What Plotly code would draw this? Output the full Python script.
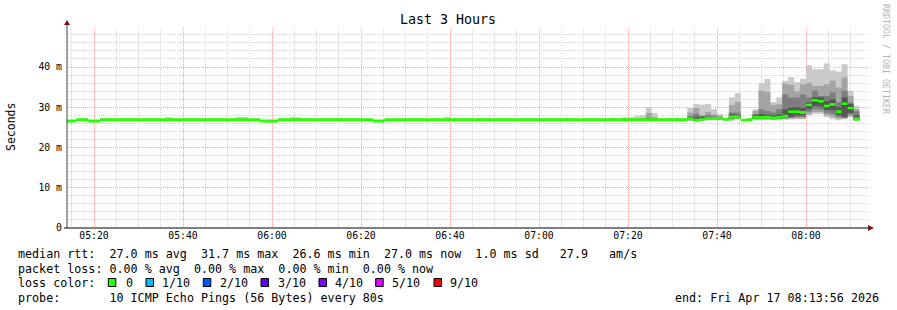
import pandas as pd
import plotly.graph_objects as go

# ---------------- data ----------------
start_time = "2026-04-17 05:13:20"   # start of first 80 s RRD step
step_seconds = 80
view_start = "2026-04-17 05:13:56"
view_end = "2026-04-17 08:13:56"

# median RTT (ms) per 80 s step, 134 steps
median_ms = [
    26.6, 26.6, 26.9, 26.9, 26.6, 26.6, 26.9, 26.9, 26.9, 26.9,
    26.9, 26.9, 26.9, 26.9, 26.9, 26.9, 26.9, 26.9, 26.9, 26.9,
    26.9, 26.9, 26.9, 26.9, 26.9, 26.9, 26.9, 26.9, 26.9, 26.9,
    26.9, 26.9, 26.9, 26.6, 26.6, 26.6, 26.9, 26.9, 26.9, 26.9,
    26.9, 26.9, 26.9, 26.9, 26.9, 26.9, 26.9, 26.9, 26.9, 26.9,
    26.9, 26.9, 26.6, 26.6, 26.9, 26.9, 26.9, 26.9, 26.9, 26.9,
    26.9, 26.9, 26.9, 26.9, 26.9, 26.9, 26.9, 26.9, 26.9, 26.9,
    26.9, 26.9, 26.9, 26.9, 26.9, 26.9, 26.9, 26.9, 26.9, 26.9,
    26.9, 26.9, 26.9, 26.9, 26.9, 26.9, 26.9, 26.9, 26.9, 26.9,
    26.9, 26.9, 26.9, 26.9, 26.9, 26.9, 26.9, 26.9, 26.9, 26.9,
    26.9, 26.9, 26.9, 26.9, 26.9, 27.15, 26.8, 27.0, 27.2, 27.2,
    27.2, 27.0, 27.6, 27.6, 26.8, 26.9, 27.5, 27.5, 27.5, 27.35,
    27.5, 27.8, 28.9, 28.9, 28.7, 30.6, 31.75, 31.5, 30.3, 30.7,
    28.9, 30.9, 29.8, 27.1,
]

# steps with spread ("smoke"): step index -> 10 sorted ping RTTs (ms)
smoke_steps = [17, 18, 29, 30, 38, 39, 46, 64, 65, 84, 92, 94, 95, 96, 97, 98,
               99, 102, 103, 105, 106, 107, 108, 109, 110, 111, 112, 113, 116,
               117, 118, 119, 120, 121, 122, 123, 124, 125, 126, 127, 128, 129,
               130, 131, 132, 133]
smoke_pings = [
    [26.9, 26.9, 26.9, 26.9, 26.9, 26.9, 26.9, 26.9, 26.9, 27.6],
    [26.9, 26.9, 26.9, 26.9, 26.9, 26.9, 26.9, 26.9, 26.9, 27.4],
    [26.9, 26.9, 26.9, 26.9, 26.9, 26.9, 26.9, 26.9, 26.9, 27.6],
    [26.9, 26.9, 26.9, 26.9, 26.9, 26.9, 26.9, 26.9, 26.9, 27.6],
    [26.9, 26.9, 26.9, 26.9, 26.9, 26.9, 26.9, 26.9, 26.9, 27.6],
    [26.9, 26.9, 26.9, 26.9, 26.9, 26.9, 26.9, 26.9, 26.9, 27.5],
    [26.9, 26.9, 26.9, 26.9, 26.9, 26.9, 26.9, 26.9, 26.9, 27.4],
    [26.9, 26.9, 26.9, 26.9, 26.9, 26.9, 26.9, 26.9, 26.9, 27.6],
    [26.9, 26.9, 26.9, 26.9, 26.9, 26.9, 26.9, 26.9, 26.9, 27.4],
    [26.9, 26.9, 26.9, 26.9, 26.9, 26.9, 26.9, 26.9, 26.9, 27.4],
    [26.9, 26.9, 26.9, 26.9, 26.9, 26.9, 26.9, 26.9, 26.9, 27.4],
    [26.9, 26.9, 26.9, 26.9, 26.9, 26.9, 26.9, 26.9, 26.9, 27.5],
    [26.9, 26.9, 26.9, 26.9, 26.9, 26.9, 26.9, 26.9, 26.9, 27.5],
    [26.9, 26.9, 26.9, 26.9, 26.9, 26.9, 26.9, 26.9, 26.9, 27.8],
    [26.9, 26.9, 26.9, 26.9, 26.9, 26.9, 26.9, 26.9, 27.3, 28.1],
    [26.9, 26.9, 26.9, 26.9, 26.9, 26.9, 26.9, 27.4, 28.6, 30.0],
    [26.9, 26.9, 26.9, 26.9, 26.9, 26.9, 26.9, 26.9, 27.5, 28.6],
    [26.9, 26.9, 26.9, 26.9, 26.9, 26.9, 26.9, 26.9, 26.9, 27.4],
    [26.9, 26.9, 26.9, 26.9, 26.9, 26.9, 26.9, 26.9, 26.9, 27.4],
    [26.6, 26.8, 26.9, 27.0, 27.1, 27.2, 27.6, 27.85, 28.7, 29.8],
    [26.45, 26.6, 26.7, 26.75, 26.8, 26.85, 27.5, 28.4, 29.8, 30.8],
    [26.6, 26.75, 26.85, 26.95, 27.0, 27.05, 27.6, 27.85, 28.1, 30.6],
    [26.7, 26.85, 27.0, 27.1, 27.15, 27.25, 27.6, 28.0, 28.85, 30.8],
    [26.8, 26.9, 27.0, 27.1, 27.15, 27.25, 27.5, 27.85, 28.2, 29.5],
    [26.9, 27.0, 27.05, 27.1, 27.15, 27.25, 27.4, 27.6, 27.9, 28.3],
    [26.8, 26.9, 26.95, 26.95, 27.0, 27.0, 27.05, 27.1, 27.2, 27.4],
    [26.6, 26.9, 27.1, 27.3, 27.4, 27.85, 28.3, 28.7, 30.5, 32.5],
    [27.0, 27.1, 27.2, 27.35, 27.5, 27.7, 28.0, 28.7, 31.4, 33.5],
    [26.8, 26.95, 27.1, 27.2, 27.3, 27.7, 28.0, 28.4, 29.1, 29.5],
    [26.8, 27.0, 27.1, 27.2, 27.3, 27.7, 28.3, 29.5, 34.1, 36.0],
    [26.8, 27.0, 27.1, 27.3, 27.4, 27.6, 28.0, 29.1, 33.8, 37.0],
    [26.8, 26.9, 27.0, 27.1, 27.2, 27.5, 28.0, 28.7, 30.5, 31.3],
    [26.8, 27.0, 27.1, 27.2, 27.3, 27.7, 28.2, 29.5, 30.75, 32.4],
    [26.9, 27.1, 27.3, 27.5, 27.6, 28.0, 29.5, 33.2, 35.9, 36.6],
    [26.95, 27.2, 27.4, 27.6, 28.4, 29.4, 29.9, 32.4, 35.6, 37.55],
    [27.0, 27.3, 27.6, 28.0, 28.5, 29.3, 30.0, 32.4, 33.9, 36.3],
    [27.0, 27.3, 27.6, 28.0, 28.4, 29.0, 29.8, 33.2, 35.7, 37.1],
    [27.9, 28.3, 28.9, 29.6, 30.2, 31.0, 31.2, 32.4, 36.1, 40.45],
    [28.3, 28.8, 29.5, 30.3, 31.2, 32.3, 32.4, 34.1, 35.3, 39.45],
    [28.3, 28.8, 29.4, 30.1, 31.0, 32.0, 32.5, 32.8, 35.3, 39.45],
    [27.5, 28.0, 28.6, 29.3, 29.8, 30.8, 31.5, 32.8, 35.7, 40.9],
    [27.0, 27.6, 28.3, 29.2, 30.2, 31.2, 32.0, 33.7, 36.6, 39.2],
    [26.8, 27.2, 27.6, 28.1, 28.6, 29.2, 30.0, 31.2, 34.9, 38.9],
    [27.0, 27.2, 27.4, 27.5, 30.4, 31.4, 32.5, 34.1, 37.4, 40.7],
    [27.5, 27.8, 28.2, 28.6, 29.4, 30.2, 30.8, 31.2, 32.8, 34.1],
    [26.6, 26.8, 26.9, 27.0, 27.05, 27.15, 28.0, 29.0, 29.5, 30.35],
]

x_tick_labels = ["05:20", "05:40", "06:00", "06:20", "06:40", "07:00", "07:20", "07:40", "08:00"]
y_tick_values = [0, 10, 20, 30, 40]
y_tick_labels = ["0", "10 m", "20 m", "30 m", "40 m"]

title_text = "Last 3 Hours"
y_title = "Seconds"
stats_lines = [
    "median rtt:  27.0 ms avg  31.7 ms max  26.6 ms min  27.0 ms now  1.0 ms sd   27.9   am/s",
    "packet loss: 0.00 % avg  0.00 % max  0.00 % min  0.00 % now",
    "loss color:",
    "probe:       10 ICMP Echo Pings (56 Bytes) every 80s",
]
loss_labels = ["0", "1/10", "2/10", "3/10", "4/10", "5/10", "9/10"]
loss_colors = ["#26ff00", "#00b8ff", "#0059ff", "#5e00ff", "#7e00ff", "#dd00ff", "#ff0000"]
end_text = "end: Fri Apr 17 08:13:56 2026"
watermark = "RRDTOOL / TOBI OETIKER"

# ---------------- layout constants ----------------
W, H = 897, 310
ML, MR, MT, MB = 67, 29, 28, 82
PW, PH = W - ML - MR, H - MT - MB
MONO = "DejaVu Sans Mono"
Y_MAX = 49.7
band_colors = ["#cacaca", "#a4a4a4", "#7e7e7e", "#585858", "#323232"]
median_color = loss_colors[0]
MAJOR_GRID = "#f4a6a6"
MINOR_GRID = "#d4d4d4"


def px(x, y):
    """pixel -> paper coords"""
    return (x - ML) / PW, (H - MB - y) / PH


def nb(s):
    return s.replace(" ", "\u00a0")


n = len(median_ms)
t0 = pd.Timestamp(start_time)
# step edges (n+1) for step-shaped ("hv") areas
edges = [t0 + pd.Timedelta(seconds=step_seconds * k) for k in range(n + 1)]
smoke = dict(zip(smoke_steps, smoke_pings))
pings = [smoke.get(k, [median_ms[k]] * 10) for k in range(n)]


def add_band(lo, hi, color):
    lo = list(lo) + [lo[-1]]
    hi = list(hi) + [hi[-1]]
    fig.add_trace(go.Scatter(x=edges, y=lo, mode="lines", line=dict(width=0, shape="hv"),
                             hoverinfo="skip", showlegend=False))
    fig.add_trace(go.Scatter(x=edges, y=hi, mode="lines", line=dict(width=0, shape="hv"),
                             fill="tonexty", fillcolor=color,
                             hoverinfo="skip", showlegend=False))


fig = go.Figure()
for i, col in enumerate(band_colors):
    add_band([p[i] for p in pings], [p[9 - i] for p in pings], col)

thick = 0.72
add_band([m - thick / 2 for m in median_ms], [m + thick / 2 for m in median_ms], median_color)

day = "2026-04-17 "
fig.update_layout(
    width=W, height=H, margin=dict(l=ML, r=MR, t=MT, b=MB, pad=0),
    paper_bgcolor="white", plot_bgcolor="white",
    showlegend=False,
    font=dict(family=MONO, color="#000000"),
    xaxis=dict(
        type="date", range=[view_start, view_end],
        tickvals=[day + t for t in x_tick_labels], ticktext=x_tick_labels,
        tickfont=dict(family=MONO, size=9.8, color="#000"),
        showgrid=True, gridcolor=MAJOR_GRID, griddash="1px,1px", gridwidth=1,
        minor=dict(dtick=5 * 60 * 1000, tick0=day + "05:00", showgrid=True,
                   gridcolor=MINOR_GRID, griddash="1px,1px", gridwidth=1),
        showline=False, zeroline=False, ticks="", fixedrange=True,
    ),
    yaxis=dict(
        range=[0, Y_MAX], tickvals=y_tick_values, ticktext=y_tick_labels,
        tickfont=dict(family=MONO, size=9.8, color="#000"),
        showgrid=True, gridcolor=MAJOR_GRID, griddash="1px,1px", gridwidth=1,
        minor=dict(dtick=2, tick0=0, showgrid=True, gridcolor=MINOR_GRID,
                   griddash="1px,1px", gridwidth=1),
        showline=False, zeroline=False, ticks="", ticklabelstandoff=4, fixedrange=True,
    ),
)

shapes = []
# axes lines
x0, y0 = px(67, 228)
_, ytop = px(67, 24)
xr, _ = px(869, 228)
shapes.append(dict(type="line", xref="paper", yref="paper", x0=x0, y0=y0, x1=x0, y1=ytop,
                   line=dict(color="#404040", width=1)))
shapes.append(dict(type="line", xref="paper", yref="paper", x0=px(64, 0)[0], y0=y0, x1=xr, y1=y0,
                   line=dict(color="#000000", width=1)))
# arrows
ax1 = px(64, 25); ax2 = px(70, 25); ax3 = px(67, 20)
shapes.append(dict(type="path", xref="paper", yref="paper",
                   path=f"M {ax1[0]} {ax1[1]} L {ax2[0]} {ax2[1]} L {ax3[0]} {ax3[1]} Z",
                   fillcolor="#7f1010", line=dict(width=0)))
ar1 = px(868, 225); ar2 = px(868, 231); ar3 = px(874, 228)
shapes.append(dict(type="path", xref="paper", yref="paper",
                   path=f"M {ar1[0]} {ar1[1]} L {ar2[0]} {ar2[1]} L {ar3[0]} {ar3[1]} Z",
                   fillcolor="#7f1010", line=dict(width=0)))

annotations = []


def text_at(x, y, s, size=11.7, xanchor="left", color="#000", angle=0, family=MONO):
    xp, yp = px(x, y)
    annotations.append(dict(x=xp, y=yp, xref="paper", yref="paper", text=nb(s),
                            showarrow=False, xanchor=xanchor, yanchor="middle",
                            textangle=angle, font=dict(family=family, size=size, color=color)))


text_at(448, 19, title_text, size=13.3, xanchor="center")
text_at(11, 127, y_title, size=11.5, xanchor="center", angle=-90)
text_at(886, 59, watermark, size=8.3, xanchor="center", color="#b4b4b4", angle=90)

line_y = [254, 268.5, 283, 297.5]
for s, yy in zip(stats_lines, line_y):
    text_at(15.5, yy, s)
text_at(881, line_y[3], end_text, xanchor="right")

box_x = [108.3, 146.0, 203.3, 261.0, 319.0, 375.7, 434.0]
label_x = [124.0, 160.7, 218.3, 276.0, 333.3, 390.7, 448.3]
for bx, lx, lab, col in zip(box_x, label_x, loss_labels, loss_colors):
    a = px(bx, 286.5); b = px(bx + 7.5, 278.5)
    shapes.append(dict(type="rect", xref="paper", yref="paper", x0=a[0], y0=a[1], x1=b[0], y1=b[1],
                       fillcolor=col, line=dict(color="#000", width=1)))
    text_at(lx - 0.5, line_y[2], lab)

fig.update_layout(shapes=shapes, annotations=annotations)
fig.write_html("out.html")
